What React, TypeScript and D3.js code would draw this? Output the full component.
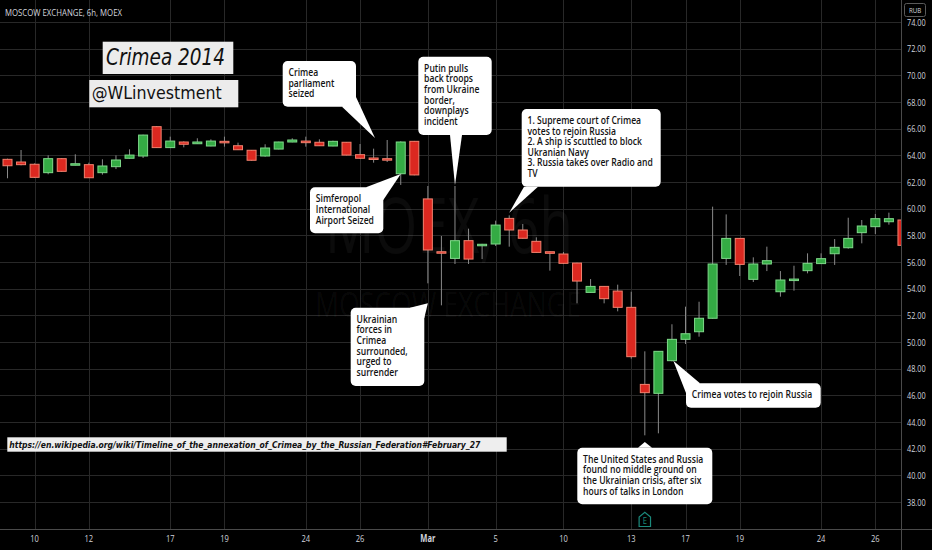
import * as d3 from "d3";

// 6h candles, MOEX index, Feb 10 – Mar 27 2014
const opens = [
  63.7, 63.5, 63.33, 62.7, 63.75, 63.3, 63.3, 62.7, 63.15, 63.78, 63.95, 66.15, 64.58, 65.0, 64.87, 64.7, 65.05,
  64.72, 64.38, 63.95, 64.47, 65.0, 65.07, 64.98, 64.7, 64.98, 64.05, 63.8, 63.75, 62.62, 65.05, 60.73, 56.77,
  56.27, 57.6, 57.22, 57.35, 59.27, 58.4, 57.55, 56.77, 56.6, 55.92, 53.72, 54.17, 53.82, 52.6, 46.82, 46.15,
  48.6, 50.2, 50.77, 51.78, 56.27, 57.77, 54.7, 55.85, 53.77, 54.62, 55.35, 55.88, 56.62, 57.07, 58.2, 58.65,
  59.02, 59.15,
];
const highs = [
  63.75, 64.4, 63.4, 64.0, 63.8, 64.08, 63.45, 63.7, 64.0, 64.45, 65.55, 66.2, 65.4, 65.05, 65.28, 65.2, 65.4,
  64.95, 64.4, 64.83, 65.02, 65.28, 65.4, 65.2, 65.1, 65.0, 64.85, 64.5, 65.15, 65.05, 65.08, 61.7, 57.95,
  61.7, 58.5, 57.36, 59.1, 59.5, 58.85, 57.85, 56.8, 56.75, 55.95, 54.72, 54.2, 54.3, 53.77, 49.3, 49.3,
  51.33, 52.65, 53.02, 60.15, 59.57, 57.8, 56.35, 57.15, 55.32, 55.72, 56.65, 56.65, 57.72, 59.32, 59.15, 59.6,
  59.7, 59.2,
];
const lows = [
  62.28, 63.25, 62.3, 62.58, 62.75, 63.25, 62.3, 62.55, 62.97, 63.75, 63.8, 64.55, 64.55, 64.6, 64.85, 64.68,
  64.65, 64.4, 63.6, 63.9, 64.45, 64.98, 64.65, 64.7, 64.68, 64.0, 63.75, 63.45, 63.5, 61.78, 62.5, 54.4, 52.75,
  55.85, 55.85, 56.22, 57.2, 57.15, 57.75, 56.7, 55.35, 55.85, 52.9, 53.7, 52.9, 52.3, 48.75, 43.0, 43.15,
  48.55, 49.85, 50.4, 51.75, 55.78, 54.95, 54.5, 55.32, 53.4, 53.85, 55.15, 55.85, 55.78, 57.0, 57.4, 58.1,
  58.8, 57.2,
];
const closes = [
  63.22, 63.3, 62.35, 63.75, 62.8, 63.37, 62.32, 63.2, 63.65, 64.02, 65.52, 64.58, 65.07, 64.83, 65.0, 65.07,
  64.98, 64.42, 63.63, 64.55, 65.0, 65.15, 64.95, 64.72, 65.05, 64.02, 63.78, 63.7, 63.68, 65.0, 62.53, 56.9,
  56.7, 57.6, 56.22, 57.33, 58.77, 58.4, 57.78, 56.72, 56.65, 55.9, 54.57, 54.17, 53.25, 52.6, 48.9, 46.2,
  49.3, 50.2, 50.62, 51.78, 55.85, 57.77, 55.82, 55.85, 56.1, 54.65, 54.72, 55.9, 56.25, 57.1, 57.77, 58.7,
  59.25, 59.25, 57.25,
];

const dateTickIndex = [2, 6, 12, 16, 22, 26, 31, 36, 41, 46, 50, 54, 60, 64];
const dateTickLabels = ["10", "12", "17", "19", "24", "26", "Mar", "5", "10", "13", "17", "19", "24", "26"];
const priceTicks = [38, 40, 42, 44, 46, 48, 50, 52, 54, 56, 58, 60, 62, 64, 66, 68, 70, 72, 74];

type Callout = {
  lines: string[];
  box: [number, number, number, number];
  tip: [number, number]; // candle index, price
  base: [number, number, number, number];
};

const callouts: Callout[] = [
  {
    lines: ["Crimea", "parliament", "seized"],
    box: [282.7, 61, 73.3, 45.7],
    tip: [27.1, 65.3],
    base: [342, 106.7, 356, 97],
  },
  {
    lines: ["Putin pulls", "back troops", "from Ukraine", "border,", "downplays", "incident"],
    box: [418.3, 56.7, 73.4, 78.3],
    tip: [33, 61.75],
    base: [450, 135, 462, 135],
  },
  {
    lines: [
      "1. Supreme court of Crimea",
      "votes to rejoin Russia",
      "2. A ship is scuttled to block",
      "Ukranian Navy",
      "3. Russia takes over Radio and",
      "TV",
    ],
    box: [521.7, 109, 139, 77.7],
    tip: [37, 59.7],
    base: [524, 186.7, 538, 186.7],
  },
  {
    lines: ["Simferopol", "International", "Airport Seized"],
    box: [310, 187.3, 73.3, 46],
    tip: [29, 62.6],
    base: [366, 187.3, 383.3, 200],
  },
  {
    lines: ["Ukrainian", "forces in", "Crimea", "surrounded,", "urged to", "surrender"],
    box: [350.7, 307.7, 73.6, 78.3],
    tip: [31, 52.9],
    base: [410, 307.7, 424.3, 318],
  },
  {
    lines: ["Crimea votes to rejoin Russia"],
    box: [686, 383.3, 134.7, 24.4],
    tip: [49.1, 48.6],
    base: [686, 393, 700, 383.3],
  },
  {
    lines: [
      "The United States and Russia",
      "found no middle ground on",
      "the Ukrainian crisis, after six",
      "hours of talks in London",
    ],
    box: [577.3, 447.7, 135, 56.6],
    tip: [47, 42.5],
    base: [638, 447.7, 652, 447.7],
  },
];

const W = 932;
const H = 550;
const plotRight = 901;
const plotBottom = 529;
const SX = 0.77; // the screenshot text is horizontally squeezed
const FONT = "'Open Sans', 'Noto Sans', sans-serif";

const x = d3
  .scaleLinear()
  .domain([0, closes.length - 1])
  .range([7.5, 7.5 + (closes.length - 1) * 13.56]);
const y = d3.scaleLinear().domain([38, 74]).range([502, 22]);
const candleW = 10;

const RED = "#db2820";
const RED_EDGE = "#f2826f";
const GREEN = "#34ab44";
const GREEN_EDGE = "#7fd98a";

function T(props: {
  x: number;
  y: number;
  text: string;
  size: number;
  fill?: string;
  weight?: number | string;
  anchor?: string;
  sx?: number;
}) {
  const { x: tx, y: ty, text, size, fill = "#d1d4dc", weight = 400, anchor = "start", sx = SX } = props;
  return (
    <text
      transform={`translate(${tx},${ty}) scale(${sx},1)`}
      fontFamily={FONT}
      fontSize={size}
      fontWeight={weight}
      fill={fill}
      textAnchor={anchor}
    >
      {text}
    </text>
  );
}

export default function App() {
  const candles = closes.map((c, i) => ({ i, o: opens[i], h: highs[i], l: lows[i], c }));

  return (
    <svg
      width={W}
      height={H}
      viewBox={`0 0 ${W} ${H}`}
      style={{ position: "absolute", left: 0, top: 0, display: "block" }}
    >
      <defs>
        <clipPath id="plotClip">
          <rect x={0} y={0} width={plotRight} height={plotBottom} />
        </clipPath>
      </defs>
      <rect x={0} y={0} width={W} height={H} fill="#000" />

      {/* grid */}
      <g stroke="#282828" strokeWidth={1}>
        {priceTicks.map((p) => (
          <line key={`h${p}`} x1={0} x2={plotRight} y1={Math.round(y(p)) + 0.5} y2={Math.round(y(p)) + 0.5} />
        ))}
        {dateTickIndex.map((d) => (
          <line key={`v${d}`} x1={Math.round(x(d)) + 0.5} x2={Math.round(x(d)) + 0.5} y1={0} y2={plotBottom} />
        ))}
      </g>

      {/* watermark */}
      <g fill="#ffffff" fillOpacity={0.045} fontFamily={FONT}>
        <text x={325} y={253} fontSize={76} textLength={248} lengthAdjust="spacingAndGlyphs">
          MOEX, 6h
        </text>
        <text x={315} y={317} fontSize={35} textLength={266} lengthAdjust="spacingAndGlyphs">
          MOSCOW EXCHANGE
        </text>
      </g>

      {/* candles */}
      <g clipPath="url(#plotClip)">
        {candles.map((d) => {
          const up = d.c >= d.o;
          const cx = x(d.i);
          const top = y(Math.max(d.o, d.c));
          const bot = y(Math.min(d.o, d.c));
          return (
            <g key={d.i}>
              <line x1={cx} x2={cx} y1={y(d.h)} y2={y(d.l)} stroke="#8a8a8a" strokeWidth={1} />
              <rect
                x={cx - candleW / 2 + 0.5}
                y={top}
                width={candleW - 1}
                height={Math.max(bot - top, 1.5)}
                fill={up ? GREEN : RED}
                stroke={up ? GREEN_EDGE : RED_EDGE}
                strokeWidth={1}
              />
            </g>
          );
        })}
      </g>

      {/* axes borders */}
      <line x1={0} x2={W} y1={plotBottom + 0.5} y2={plotBottom + 0.5} stroke="#4a4a4a" />
      <line x1={plotRight + 0.5} x2={plotRight + 0.5} y1={0} y2={H} stroke="#4a4a4a" />

      {priceTicks.map((p) => (
        <T key={`pl${p}`} x={907} y={y(p) + 3.5} text={p.toFixed(2)} size={9.5} />
      ))}
      {dateTickIndex.map((d, k) => (
        <T
          key={`dl${k}`}
          x={x(d)}
          y={542}
          text={dateTickLabels[k]}
          size={9.8}
          anchor="middle"
          weight={dateTickLabels[k] === "Mar" ? 700 : 500}
        />
      ))}
      <rect x={904.5} y={3.5} width={21} height={13} rx={2} fill="none" stroke="#5a5a5a" />
      <T x={915} y={13.2} text="RUB" size={8} anchor="middle" />

      {/* header */}
      <text x={5} y={16} fontFamily={FONT} fontSize={9.5} fill="#d1d4dc" textLength={117} lengthAdjust="spacingAndGlyphs">
        MOSCOW EXCHANGE, 6h, MOEX
      </text>

      {/* callouts */}
      {callouts.map((c, k) => {
        const [bx, by, bw, bh] = c.box;
        const tx = x(c.tip[0]);
        const ty = y(c.tip[1]);
        return (
          <g key={`c${k}`}>
            <rect x={bx} y={by} width={bw} height={bh} rx={5} fill="#ffffff" />
            <path d={`M${c.base[0]},${c.base[1]} L${tx},${ty} L${c.base[2]},${c.base[3]} Z`} fill="#ffffff" />
            {c.lines.map((ln, j) => (
              <T
                key={j}
                x={bx + 5.8}
                y={by + 15 + j * 10.6}
                text={ln}
                size={10}
                weight={600}
                fill="#131313"
                sx={0.86}
              />
            ))}
          </g>
        );
      })}

      {/* event marker */}
      <g>
        <path
          d={`M${x(47) - 5.7},526.5 L${x(47) - 5.7},517 L${x(47)},512.3 L${x(47) + 5.7},517 L${x(47) + 5.7},526.5 Z`}
          fill="#000"
          stroke="#1b8a7c"
          strokeWidth={1.2}
        />
        <T x={x(47)} y={524} text="E" size={8.5} fill="#1b8a7c" anchor="middle" sx={0.9} />
      </g>

      {/* titles */}
      <rect x={102.7} y={41.7} width={130.6} height={32.3} fill="#ececec" />
      <text
        x={106}
        y={65}
        fontFamily="'DejaVu Sans', sans-serif"
        fontStyle="italic"
        fontSize={23}
        fill="#111"
        textLength={119}
        lengthAdjust="spacingAndGlyphs"
      >
        Crimea 2014
      </text>
      <rect x={89.3} y={80} width={149} height={27.3} fill="#ececec" />
      <text
        x={91.7}
        y={99.3}
        fontFamily="'DejaVu Sans', sans-serif"
        fontSize={18.5}
        fill="#111"
        textLength={130}
        lengthAdjust="spacingAndGlyphs"
      >
        @WLinvestment
      </text>

      <rect x={7.3} y={437.3} width={499.4} height={14.4} fill="#eeeeee" />
      <text
        x={9.3}
        y={447.8}
        fontFamily="'DejaVu Sans', sans-serif"
        fontStyle="italic"
        fontWeight={700}
        fontSize={9.5}
        fill="#111"
        textLength={471}
        lengthAdjust="spacingAndGlyphs"
      >
        https://en.wikipedia.org/wiki/Timeline_of_the_annexation_of_Crimea_by_the_Russian_Federation#February_27
      </text>
    </svg>
  );
}
